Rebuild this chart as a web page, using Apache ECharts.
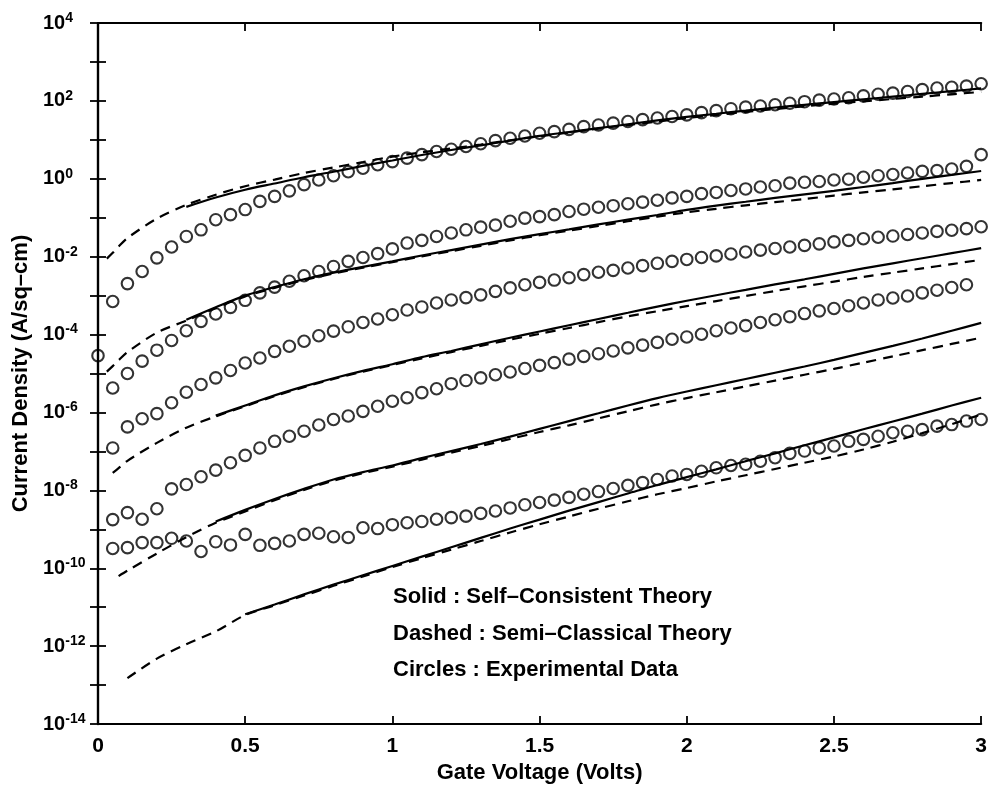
<!DOCTYPE html>
<html>
<head>
<meta charset="utf-8">
<title>Gate current density vs gate voltage</title>
<script src="https://cdn.jsdelivr.net/npm/echarts@6/dist/echarts.min.js"></script>
<style>
  html, body { margin: 0; padding: 0; background: #fff; }
  #chart { width: 990px; height: 789px; }
</style>
</head>
<body>
<div id="chart"></div>
<script>
// Gate voltage (V) of the measured points, 0 to 3 V in 0.05 V steps
const voltsMeasured = [
  0.00, 0.05, 0.10, 0.15, 0.20, 0.25, 0.30, 0.35, 0.40, 0.45,
  0.50, 0.55, 0.60, 0.65, 0.70, 0.75, 0.80, 0.85, 0.90, 0.95,
  1.00, 1.05, 1.10, 1.15, 1.20, 1.25, 1.30, 1.35, 1.40, 1.45,
  1.50, 1.55, 1.60, 1.65, 1.70, 1.75, 1.80, 1.85, 1.90, 1.95,
  2.00, 2.05, 2.10, 2.15, 2.20, 2.25, 2.30, 2.35, 2.40, 2.45,
  2.50, 2.55, 2.60, 2.65, 2.70, 2.75, 2.80, 2.85, 2.90, 2.95, 3.00
];

// Measured current density, stored as log10(A/sq-cm), one array per device
const measuredA = [
  -4.54, -3.15, -2.69, -2.38, -2.03, -1.75, -1.48, -1.31, -1.05, -0.92,
  -0.79, -0.58, -0.45, -0.31, -0.15, -0.03, 0.08, 0.18, 0.27, 0.36,
  0.44, 0.53, 0.62, 0.70, 0.76, 0.83, 0.90, 0.98, 1.04, 1.10,
  1.17, 1.21, 1.27, 1.34, 1.38, 1.43, 1.47, 1.52, 1.56, 1.60,
  1.64, 1.70, 1.75, 1.80, 1.84, 1.87, 1.90, 1.94, 1.98, 2.02,
  2.05, 2.08, 2.13, 2.17, 2.20, 2.24, 2.29, 2.33, 2.35, 2.38, 2.44
];
const measuredB = [
  null, -5.37, -5.00, -4.68, -4.40, -4.15, -3.90, -3.66, -3.47, -3.30,
  -3.12, -2.93, -2.78, -2.63, -2.49, -2.38, -2.25, -2.12, -2.02, -1.92,
  -1.80, -1.65, -1.58, -1.48, -1.39, -1.31, -1.24, -1.19, -1.09, -1.01,
  -0.97, -0.92, -0.84, -0.78, -0.73, -0.69, -0.64, -0.60, -0.55, -0.49,
  -0.45, -0.38, -0.35, -0.30, -0.26, -0.21, -0.18, -0.11, -0.09, -0.07,
  -0.03, -0.01, 0.04, 0.08, 0.11, 0.15, 0.19, 0.21, 0.25, 0.32, 0.62
];
const measuredC = [
  null, -6.91, -6.37, -6.16, -6.03, -5.75, -5.48, -5.28, -5.11, -4.92,
  -4.73, -4.60, -4.43, -4.30, -4.17, -4.03, -3.91, -3.80, -3.69, -3.60,
  -3.49, -3.37, -3.29, -3.19, -3.11, -3.05, -2.98, -2.89, -2.80, -2.72,
  -2.66, -2.60, -2.54, -2.46, -2.40, -2.35, -2.29, -2.23, -2.17, -2.12,
  -2.07, -2.02, -1.98, -1.93, -1.88, -1.83, -1.79, -1.75, -1.71, -1.67,
  -1.62, -1.58, -1.54, -1.50, -1.47, -1.43, -1.39, -1.35, -1.32, -1.28, -1.23
];
const measuredD = [
  null, -8.75, -8.57, -8.74, -8.47, -7.96, -7.85, -7.65, -7.48, -7.29,
  -7.10, -6.91, -6.74, -6.61, -6.48, -6.32, -6.18, -6.09, -5.97, -5.84,
  -5.71, -5.62, -5.49, -5.39, -5.26, -5.18, -5.11, -5.03, -4.96, -4.87,
  -4.79, -4.72, -4.63, -4.56, -4.49, -4.42, -4.34, -4.27, -4.20, -4.12,
  -4.06, -3.99, -3.90, -3.83, -3.77, -3.69, -3.62, -3.54, -3.46, -3.39,
  -3.33, -3.26, -3.19, -3.11, -3.06, -3.01, -2.93, -2.86, -2.79, -2.72, null
];
const measuredE = [
  null, -9.49, -9.47, -9.34, -9.34, -9.23, -9.30, -9.57, -9.32, -9.40,
  -9.13, -9.41, -9.36, -9.30, -9.13, -9.10, -9.19, -9.21, -8.96, -8.98,
  -8.88, -8.83, -8.80, -8.74, -8.70, -8.66, -8.59, -8.53, -8.45, -8.37,
  -8.31, -8.25, -8.18, -8.10, -8.03, -7.95, -7.87, -7.80, -7.72, -7.63,
  -7.59, -7.51, -7.42, -7.36, -7.33, -7.25, -7.16, -7.05, -6.99, -6.91,
  -6.86, -6.74, -6.69, -6.61, -6.52, -6.48, -6.44, -6.35, -6.31, -6.22, -6.18
];

// Gate voltage (V) at which the theory curves are tabulated
const voltsTheory = [
  0.03, 0.05, 0.07,
  0.1, 0.2, 0.3, 0.4, 0.5, 0.6, 0.7, 0.8, 0.9, 1.0,
  1.1, 1.2, 1.3, 1.4, 1.5, 1.6, 1.7, 1.8, 1.9, 2.0,
  2.1, 2.2, 2.3, 2.4, 2.5, 2.6, 2.7, 2.8, 2.9, 3.0
];

// Self-consistent theory (solid), log10(A/sq-cm)
const selfConsistentA = [
  null, null, null,
  null, null, -0.72, -0.48, -0.28, -0.12, 0.04, 0.18, 0.33, 0.47,
  0.61, 0.74, 0.86, 0.98, 1.10, 1.20, 1.30, 1.40, 1.50, 1.59,
  1.67, 1.75, 1.83, 1.90, 1.97, 2.04, 2.11, 2.18, 2.25, 2.32
];
const selfConsistentB = [
  null, null, null,
  null, null, -3.62, -3.30, -3.00, -2.78, -2.58, -2.41, -2.26, -2.12,
  -1.97, -1.83, -1.69, -1.55, -1.42, -1.30, -1.17, -1.05, -0.93, -0.80,
  -0.69, -0.59, -0.49, -0.40, -0.31, -0.21, -0.11, 0.00, 0.10, 0.20
];
const selfConsistentC = [
  null, null, null,
  null, null, null, -6.08, -5.82, -5.56, -5.33, -5.12, -4.93, -4.76,
  -4.58, -4.42, -4.25, -4.08, -3.92, -3.76, -3.60, -3.44, -3.28, -3.13,
  -2.99, -2.85, -2.71, -2.58, -2.44, -2.30, -2.17, -2.04, -1.91, -1.78
];
const selfConsistentD = [
  null, null, null,
  null, null, null, -8.80, -8.50, -8.22, -7.96, -7.72, -7.53, -7.36,
  -7.17, -6.99, -6.81, -6.62, -6.42, -6.22, -6.02, -5.82, -5.63, -5.46,
  -5.30, -5.14, -4.98, -4.82, -4.65, -4.47, -4.29, -4.10, -3.90, -3.70
];
const selfConsistentE = [
  null, null, null,
  null, null, null, null, -11.18, -10.93, -10.67, -10.42, -10.18, -9.94,
  -9.70, -9.46, -9.22, -8.98, -8.75, -8.52, -8.30, -8.08, -7.86, -7.66,
  -7.46, -7.25, -7.05, -6.84, -6.64, -6.43, -6.23, -6.03, -5.82, -5.62
];

// Semi-classical theory (dashed), log10(A/sq-cm)
const semiClassicalA = [
  -2.05, -1.90, -1.74,
  -1.52, -1.02, -0.67, -0.41, -0.19, -0.02, 0.15, 0.29, 0.43, 0.57,
  0.68, 0.78, 0.88, 0.99, 1.09, 1.19, 1.29, 1.38, 1.47, 1.56,
  1.64, 1.72, 1.79, 1.86, 1.93, 1.99, 2.05, 2.11, 2.17, 2.23
];
const semiClassicalB = [
  -4.95, -4.81, -4.66,
  -4.45, -3.95, -3.64, -3.32, -3.02, -2.80, -2.60, -2.43, -2.28, -2.14,
  -1.99, -1.86, -1.72, -1.58, -1.45, -1.33, -1.21, -1.09, -0.97, -0.86,
  -0.77, -0.68, -0.60, -0.52, -0.43, -0.35, -0.27, -0.19, -0.11, -0.03
];
const semiClassicalC = [
  null, -7.55, -7.43,
  -7.24, -6.78, -6.39, -6.10, -5.84, -5.58, -5.35, -5.14, -4.95, -4.78,
  -4.61, -4.45, -4.29, -4.13, -3.98, -3.83, -3.68, -3.53, -3.40, -3.27,
  -3.14, -3.01, -2.88, -2.76, -2.64, -2.52, -2.41, -2.30, -2.19, -2.08
];
const semiClassicalD = [
  null, null, -10.20,
  -10.06, -9.62, -9.20, -8.83, -8.54, -8.25, -7.99, -7.75, -7.56, -7.39,
  -7.21, -7.03, -6.86, -6.68, -6.50, -6.33, -6.15, -5.97, -5.79, -5.63,
  -5.48, -5.33, -5.18, -5.03, -4.88, -4.72, -4.56, -4.40, -4.24, -4.08
];
const semiClassicalE = [
  null, null, null,
  -12.82, -12.32, -11.95, -11.62, -11.20, -10.95, -10.70, -10.45, -10.21, -9.97,
  -9.74, -9.52, -9.30, -9.08, -8.87, -8.67, -8.47, -8.28, -8.10, -7.94,
  -7.77, -7.61, -7.45, -7.29, -7.13, -6.95, -6.75, -6.53, -6.30, -6.05
];

// Axis tick values
const voltTicks = [0, 0.5, 1, 1.5, 2, 2.5, 3];
const decadeLabels = [-14, -12, -10, -8, -6, -4, -2, 0, 2, 4];

const annotations = [
  'Solid : Self\u2013Consistent Theory',
  'Dashed : Semi\u2013Classical Theory',
  'Circles : Experimental Data'
];

const FONT = '"Liberation Sans", Arial, Helvetica, sans-serif';
const INK = '#000';

// Pair voltages with densities (log10 stored, plotted on a log axis)
function pairs(volts, logs) {
  const out = [];
  for (let i = 0; i < volts.length; i++) {
    if (logs[i] === null || logs[i] === undefined) continue;
    out.push([volts[i], Math.pow(10, logs[i])]);
  }
  return out;
}

function measuredSeries(logs) {
  return {
    type: 'scatter',
    data: pairs(voltsMeasured, logs),
    symbol: 'circle',
    symbolSize: 11.5,
    clip: false,
    itemStyle: { color: 'rgba(0,0,0,0)', borderColor: INK, borderWidth: 2.1 },
    z: 3
  };
}

function theorySeries(logs, dashed) {
  return {
    type: 'line',
    data: pairs(voltsTheory, logs),
    showSymbol: false,
    symbol: 'none',
    smooth: 0.3,
    clip: false,
    lineStyle: {
      color: INK,
      width: 2.2,
      type: dashed ? [10, 7] : 'solid'
    },
    z: 2
  };
}

const chart = echarts.init(document.getElementById('chart'), null, { renderer: 'canvas' });

const tickCommon = { show: true, inside: true, length: 8, lineStyle: { color: INK, width: 1.8 } };
const lineCommon = { show: true, lineStyle: { color: INK, width: 2.2 } };

function logLabel(v) {
  const e = Math.round(Math.log10(v));
  if (decadeLabels.indexOf(e) < 0) return '';
  return '{b|10}{s|' + e + '}';
}

const option = {
  backgroundColor: '#fff',
  animation: false,
  grid: { left: 98, right: 7, top: 23, bottom: 64 },
  xAxis: [
    {
      type: 'value', position: 'bottom', min: 0, max: 3, interval: 0.5,
      axisLine: lineCommon, axisTick: tickCommon, splitLine: { show: false },
      axisLabel: {
        margin: 12, color: INK, fontFamily: FONT, fontSize: 21, fontWeight: 'bold',
        formatter: v => (voltTicks.indexOf(v) >= 0 ? String(v) : '')
      },
      name: 'Gate Voltage (Volts)', nameLocation: 'middle', nameGap: 37,
      nameTextStyle: { color: INK, fontFamily: FONT, fontSize: 22, fontWeight: 'bold' }
    },
    {
      type: 'value', position: 'top', min: 0, max: 3, interval: 0.5,
      axisLine: lineCommon, axisTick: tickCommon, axisLabel: { show: false },
      splitLine: { show: false }
    }
  ],
  yAxis: [
    {
      type: 'log', logBase: 10, position: 'left', min: 1e-14, max: 1e4, interval: 1,
      axisLine: lineCommon, axisTick: tickCommon, splitLine: { show: false },
      minorTick: { show: false },
      axisLabel: {
        align: 'left', margin: 55, color: INK, fontFamily: FONT,
        formatter: logLabel,
        rich: {
          b: { fontSize: 20, fontFamily: FONT, fontWeight: 'bold', color: INK, lineHeight: 24, verticalAlign: 'middle' },
          s: { fontSize: 14, fontFamily: FONT, fontWeight: 'bold', color: INK, lineHeight: 14, verticalAlign: 'top' }
        }
      },
      name: 'Current Density (A/sq\u2013cm)', nameLocation: 'middle', nameGap: 55,
      nameRotate: 90,
      nameTextStyle: { color: INK, fontFamily: FONT, fontSize: 22, fontWeight: 'bold' }
    },
    {
      type: 'log', logBase: 10, position: 'right', min: 1e-14, max: 1e4, interval: 1,
      axisLine: lineCommon, axisTick: tickCommon, axisLabel: { show: false },
      splitLine: { show: false }, minorTick: { show: false }
    }
  ],
  graphic: annotations.map((t, i) => ({
    type: 'text',
    x: 393,
    y: 597 + i * 36.5,
    style: {
      text: t, fill: INK, fontFamily: FONT, fontSize: 22, fontWeight: 'bold',
      verticalAlign: 'middle', align: 'left'
    }
  })),
  series: [
    theorySeries(selfConsistentA, false),
    theorySeries(selfConsistentB, false),
    theorySeries(selfConsistentC, false),
    theorySeries(selfConsistentD, false),
    theorySeries(selfConsistentE, false),
    theorySeries(semiClassicalA, true),
    theorySeries(semiClassicalB, true),
    theorySeries(semiClassicalC, true),
    theorySeries(semiClassicalD, true),
    theorySeries(semiClassicalE, true),
    measuredSeries(measuredA),
    measuredSeries(measuredB),
    measuredSeries(measuredC),
    measuredSeries(measuredD),
    measuredSeries(measuredE)
  ]
};

chart.setOption(option);
</script>
</body>
</html>
